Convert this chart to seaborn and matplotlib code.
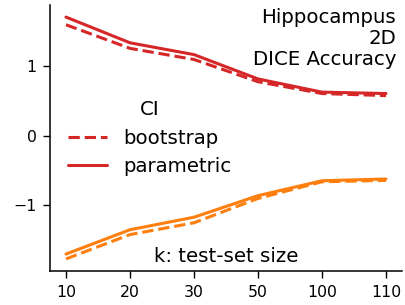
import matplotlib
matplotlib.use("Agg")
import matplotlib.pyplot as plt
import seaborn as sns
import pandas as pd

k_labels = ["10", "20", "30", "50", "100", "110"]
upper_bootstrap = [1.60, 1.26, 1.10, 0.78, 0.61, 0.58]
upper_parametric = [1.71, 1.34, 1.17, 0.82, 0.63, 0.61]
lower_bootstrap = [-1.77, -1.42, -1.25, -0.90, -0.66, -0.64]
lower_parametric = [-1.70, -1.35, -1.17, -0.86, -0.645, -0.62]

RED = "#d62728"
ORANGE = "#ff7f0e"

def long(boot, param):
    return pd.DataFrame({
        "k": k_labels * 2,
        "v": boot + param,
        "CI": ["bootstrap"] * len(boot) + ["parametric"] * len(param),
    })

upper = long(upper_bootstrap, upper_parametric)
lower = long(lower_bootstrap, lower_parametric)

sns.set_style("white")
plt.rcParams["font.family"] = ["DejaVu Sans"]
plt.rcParams["text.color"] = "black"
plt.rcParams["axes.labelcolor"] = "black"
plt.rcParams["xtick.color"] = "black"
plt.rcParams["ytick.color"] = "black"

fig = plt.figure(figsize=(4.06, 3.05), dpi=100)
ax = fig.add_axes([50/406, 1-271/305, 352/406, 266/305])

dashes = {"bootstrap": (3.7, 1.6), "parametric": ""}
sns.lineplot(data=upper, x="k", y="v", style="CI", style_order=["bootstrap", "parametric"],
             dashes=dashes, color=RED, linewidth=2.2, ax=ax)
sns.lineplot(data=lower, x="k", y="v", style="CI", style_order=["bootstrap", "parametric"],
             dashes=dashes, color=ORANGE, linewidth=2.2, ax=ax, legend=False)

sns.despine(ax=ax)
ax.set_xlabel("")
ax.set_ylabel("")
ax.set_yticks([-1, 0, 1])
ax.tick_params(axis="both", labelsize=11.3, length=4.8, width=1, pad=5, direction="out",
               left=True, bottom=True, colors="black")
for s in ["left", "bottom"]:
    ax.spines[s].set_color("black")
    ax.spines[s].set_linewidth(1.1)

sns.move_legend(ax, "center left", bbox_to_anchor=(0.0, 0.50), frameon=False,
                fontsize=14.2, title_fontsize=14.2, title="CI")
leg = ax.get_legend()
for t in leg.get_texts():
    t.set_color("black")
leg.get_title().set_color("black")

ax.text(0.983, 0.989, "Hippocampus\n2D\nDICE Accuracy", transform=ax.transAxes,
        ha="right", va="top", fontsize=14.2, linespacing=1.15, color="black")
ax.text(0.5, 0.055, "k: test-set size", transform=ax.transAxes,
        ha="center", va="center", fontsize=14.2, color="black")

fig.savefig("out.png", dpi=100)
